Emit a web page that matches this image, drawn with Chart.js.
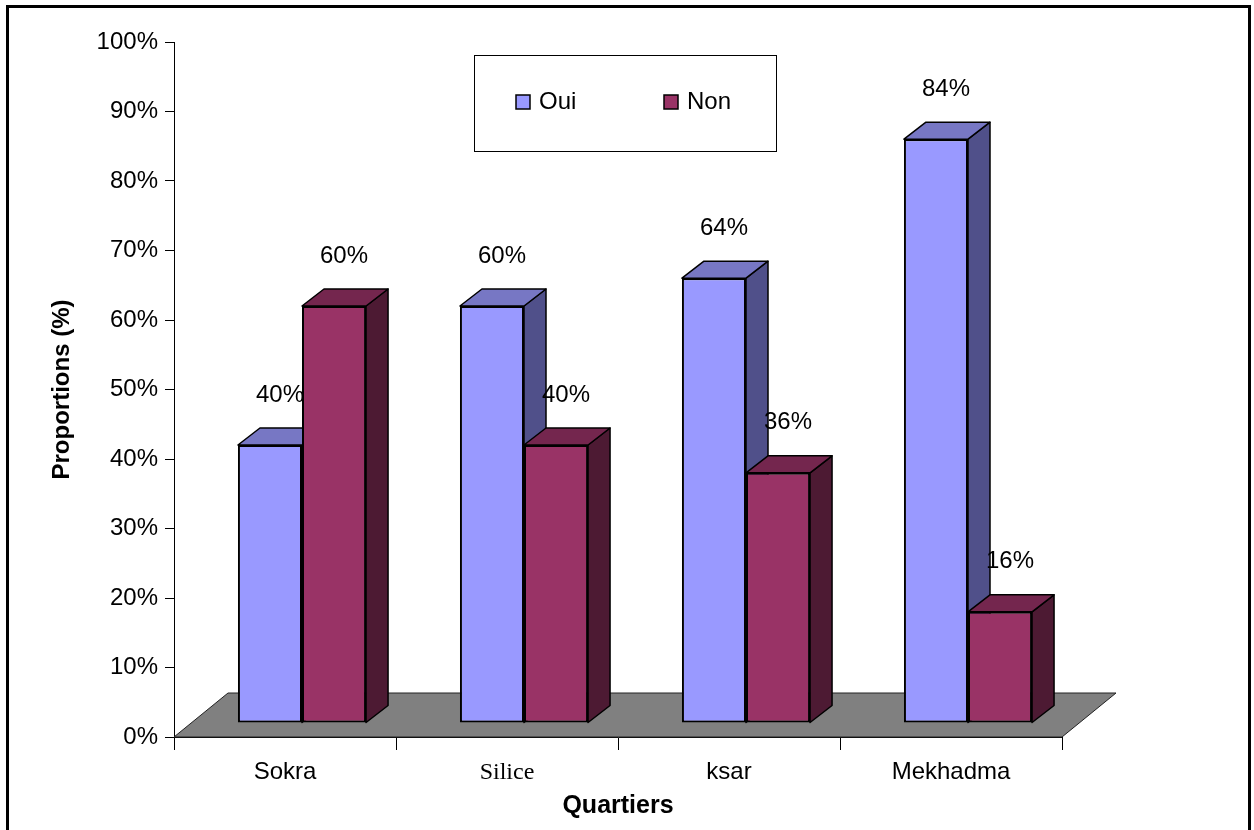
<!DOCTYPE html>
<html>
<head>
<meta charset="utf-8">
<title>Quartiers</title>
<script src="https://cdn.jsdelivr.net/npm/chart.js@4.4.0/dist/chart.umd.min.js"></script>
<style>
  html, body { margin: 0; padding: 0; background: #fff; }
  canvas { display: block; }
</style>
</head>
<body>
<canvas id="myChart" width="1254" height="830"></canvas>
<script>
var quartiers = ['Sokra', 'Silice', 'ksar', 'Mekhadma'];
var oui = [40, 60, 64, 84];
var non = [60, 40, 36, 16];
var pctTicks = ['0%', '10%', '20%', '30%', '40%', '50%', '60%', '70%', '80%', '90%', '100%'];

var FONT = "'Liberation Sans', Arial, sans-serif";
var DX = 22, DY = 17;               // depth of the bars
var SHIFT_X = 17, SHIFT_Y = -14;    // bars stand a bit inside the floor
var FLOOR_DX = 54, FLOOR_DY = 44;

function poly(ctx, pts, fill) {
    ctx.beginPath();
    ctx.moveTo(pts[0][0], pts[0][1]);
    for (var k = 1; k < pts.length; k++) {
        ctx.lineTo(pts[k][0], pts[k][1]);
    }
    ctx.closePath();
    ctx.fillStyle = fill;
    ctx.fill();
    ctx.stroke();
}

var bars3d = {
    id: 'bars3d',
    beforeDraw: function(chart) {
        var ctx = chart.ctx;
        ctx.save();
        ctx.fillStyle = '#fff';
        ctx.fillRect(0, 0, chart.width, chart.height);
        ctx.restore();
    },
    beforeDatasetsDraw: function(chart) {
        var ctx = chart.ctx, a = chart.chartArea;
        ctx.save();
        ctx.strokeStyle = '#222';
        ctx.lineWidth = 1;
        poly(ctx, [[a.left, a.bottom], [a.left + FLOOR_DX, a.bottom - FLOOR_DY],
                   [a.right + FLOOR_DX, a.bottom - FLOOR_DY], [a.right, a.bottom]], '#808080');

        ctx.translate(SHIFT_X, SHIFT_Y);
        ctx.strokeStyle = '#000';
        ctx.lineWidth = 1.5;
        ctx.lineJoin = 'round';
        for (var i = 0; i < chart.data.labels.length; i++) {
            chart.data.datasets.forEach(function(ds, d) {
                var p = chart.getDatasetMeta(d).data[i].getProps(['x', 'y', 'base', 'width'], true);
                var l = p.x - p.width / 2, r = p.x + p.width / 2;
                poly(ctx, [[r, p.y], [r + DX, p.y - DY], [r + DX, p.base - DY], [r, p.base]], ds.sideColor);
                poly(ctx, [[l, p.y], [l + DX, p.y - DY], [r + DX, p.y - DY], [r, p.y]], ds.topColor);
            });
        }
        ctx.restore();
        // front faces are drawn by chart.js in the same shifted frame
        ctx.save();
        ctx.translate(SHIFT_X, SHIFT_Y);
    },
    afterDatasetsDraw: function(chart) {
        var ctx = chart.ctx;
        ctx.restore();
        ctx.save();
        ctx.fillStyle = '#000';
        ctx.font = '24px ' + FONT;
        ctx.textAlign = 'center';
        ctx.textBaseline = 'middle';
        chart.data.datasets.forEach(function(ds, d) {
            chart.getDatasetMeta(d).data.forEach(function(el, i) {
                ctx.fillText(ds.data[i] + '%', el.x + SHIFT_X + 10, el.y + SHIFT_Y - 50);
            });
        });
        ctx.restore();
    },
    afterDraw: function(chart) {
        var ctx = chart.ctx;
        ctx.save();
        // legend box
        var bx = 474.5, by = 55.5, bw = 302, bh = 96;
        ctx.fillStyle = '#fff';
        ctx.fillRect(bx, by, bw, bh);
        ctx.strokeStyle = '#000';
        ctx.lineWidth = 1;
        ctx.strokeRect(bx, by, bw, bh);
        ctx.font = '24px ' + FONT;
        ctx.textBaseline = 'middle';
        ctx.textAlign = 'left';
        chart.data.datasets.forEach(function(ds, d) {
            var x = 516 + d * 148;
            ctx.fillStyle = ds.backgroundColor;
            ctx.fillRect(x, 95, 14, 14);
            ctx.lineWidth = 1.5;
            ctx.strokeRect(x, 95, 14, 14);
            ctx.fillStyle = '#000';
            ctx.fillText(ds.label, x + 23, 102);
        });
        // outer frame
        ctx.lineWidth = 3;
        ctx.strokeRect(7.5, 6.5, 1242, 840);
        ctx.restore();
    }
};

var ctx = document.getElementById('myChart');
var myChart = new Chart(ctx, {
    type: 'bar',
    data: {
        labels: quartiers,
        datasets: [{
            label: 'Oui',
            data: oui,
            backgroundColor: '#9999FF',
            topColor: '#7777C4',
            sideColor: '#50508A',
            borderColor: '#000',
            borderWidth: 2,
            borderSkipped: false
        }, {
            label: 'Non',
            data: non,
            backgroundColor: '#993366',
            topColor: '#74264E',
            sideColor: '#4D1A33',
            borderColor: '#000',
            borderWidth: 2,
            borderSkipped: false
        }]
    },
    options: {
        responsive: false,
        animation: false,
        events: [],
        layout: {
            padding: { left: 0, top: 42, right: 192, bottom: 0 }
        },
        datasets: {
            bar: { categoryPercentage: 0.577, barPercentage: 1 }
        },
        plugins: {
            legend: { display: false },
            tooltip: { enabled: false }
        },
        scales: {
            x: {
                grid: { drawOnChartArea: false, tickLength: 13, color: '#000', offset: true },
                border: { color: '#000', width: 1 },
                ticks: {
                    color: '#000',
                    padding: 8,
                    maxRotation: 0,
                    font: function(c) {
                        if (c.index === 1) {
                            return { family: "'Liberation Serif', 'Times New Roman', serif", size: 24 };
                        }
                        return { family: FONT, size: 24 };
                    }
                },
                title: {
                    display: true,
                    text: 'Quartiers',
                    color: '#000',
                    font: { family: FONT, size: 25, weight: 'bold' },
                    padding: { top: 0, bottom: 9 }
                },
                afterFit: function(s) { s.height = 93; }
            },
            y: {
                min: 0,
                max: 100,
                ticks: {
                    stepSize: 10,
                    color: '#000',
                    padding: 7,
                    font: { family: FONT, size: 24 },
                    callback: function(v, i) { return pctTicks[i]; }
                },
                grid: { drawOnChartArea: false, tickLength: 9, color: '#000' },
                border: { color: '#000', width: 1 },
                title: {
                    display: true,
                    text: 'Proportions (%)',
                    color: '#000',
                    font: { family: FONT, size: 24, weight: 'bold' },
                    padding: { top: 48, bottom: 0 }
                },
                afterFit: function(s) { s.width = 174; }
            }
        }
    },
    plugins: [bars3d]
});
</script>
</body>
</html>
